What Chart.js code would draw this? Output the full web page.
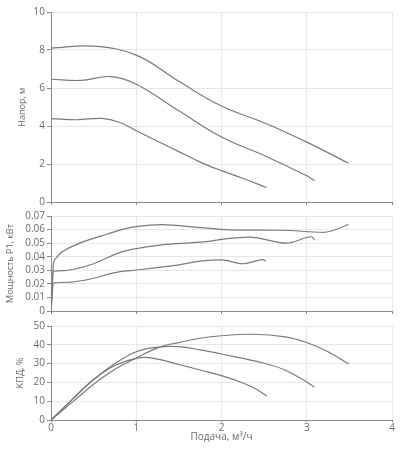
<!DOCTYPE html>
<html><head><meta charset="utf-8">
<script src="https://cdn.jsdelivr.net/npm/chart.js@4/dist/chart.umd.min.js"></script>
<style>
html,body{margin:0;padding:0;background:#fff;}
.c{position:absolute;left:0;width:400px;}
</style></head>
<body>
<div class="c" style="top:0;height:210px"><canvas id="c1" width="400" height="210"></canvas></div>
<div class="c" style="top:206px;height:113px"><canvas id="c2" width="400" height="113"></canvas></div>
<div class="c" style="top:318px;height:139px"><canvas id="c3" width="400" height="139"></canvas></div>
<script>
// ---- data ----
const xTicks = [0, 1, 2, 3, 4];
const headTicks = [0, 2, 4, 6, 8, 10];
const powerTicks = [0, 0.01, 0.02, 0.03, 0.04, 0.05, 0.06, 0.07];
const effTicks = [0, 10, 20, 30, 40, 50];

const head1X = [0, 0.5, 1.0, 1.5, 2.0, 2.5, 3.0, 3.49];
const head1Y = [8.1, 8.2, 7.73, 6.35, 5.05, 4.17, 3.15, 2.04];
const head2X = [0, 0.35, 0.7, 1.0, 1.5, 2.0, 2.5, 3.0, 3.09];
const head2Y = [6.46, 6.4, 6.6, 6.2, 4.8, 3.42, 2.45, 1.38, 1.12];
const head3X = [0, 0.3, 0.6, 0.8, 1.0, 1.25, 1.5, 1.75, 2.0, 2.25, 2.53];
const head3Y = [4.39, 4.33, 4.4, 4.2, 3.75, 3.2, 2.65, 2.1, 1.65, 1.25, 0.76];

const power1X = [0, 0.03, 0.06, 0.11, 0.34, 0.6, 0.81, 1.0, 1.3, 1.75, 2.1, 2.7, 3.2, 3.49];
const power1Y = [0, 0.035, 0.039, 0.0425, 0.05, 0.0555, 0.0596, 0.0622, 0.0637, 0.0615, 0.0598, 0.0595, 0.058, 0.0637];
const power2X = [0, 0.03, 0.15, 0.3, 0.5, 0.81, 1.0, 1.3, 1.75, 2.1, 2.33, 2.76, 3.06, 3.09];
const power2Y = [0, 0.0293, 0.0298, 0.0312, 0.0348, 0.0432, 0.046, 0.0487, 0.0507, 0.0535, 0.0545, 0.05, 0.0547, 0.0523];
const power3X = [0, 0.03, 0.2, 0.4, 0.81, 1.0, 1.5, 1.75, 2.0, 2.25, 2.49, 2.52];
const power3Y = [0, 0.0206, 0.0212, 0.0228, 0.029, 0.0302, 0.034, 0.0367, 0.0377, 0.0348, 0.0379, 0.0367];

const eff1X = [0, 0.25, 0.5, 0.75, 1.0, 1.28, 1.5, 1.75, 2.0, 2.37, 2.75, 3.0, 3.25, 3.49];
const eff1Y = [0, 9.5, 19, 27, 33, 38.9, 41.2, 43.5, 44.8, 45.6, 44.2, 41.2, 36.3, 29.8];
const eff2X = [0, 0.25, 0.5, 0.75, 1.0, 1.25, 1.5, 1.75, 2.0, 2.5, 2.75, 3.0, 3.09];
const eff2Y = [0, 11, 21.5, 30, 36.3, 38.7, 39.0, 37.3, 35.1, 30.2, 26.5, 20.2, 17.5];
const eff3X = [0, 0.25, 0.5, 0.75, 1.05, 1.25, 1.5, 1.75, 2.0, 2.25, 2.4, 2.53];
const eff3Y = [0, 11, 21.5, 29, 33.2, 32.4, 29.5, 26.6, 23.6, 19.7, 16.6, 12.8];

// ---- styling ----
const FONT = "'Open Sans', sans-serif";
const TEXT = '#6b6b6b';
const GRID = '#e6e6ec';
const AXIS = '#8a8a8a';
const LINE = '#7a7a7a';
const AREA_LEFT = 51;

function pts(xs, ys) { return xs.map((x, i) => ({x: x, y: ys[i]})); }
function ds(xs, ys, mono) {
  const d = {data: pts(xs, ys), borderColor: LINE, borderWidth: 1.2, pointRadius: 0, fill: false, tension: 0.4};
  if (mono) d.cubicInterpolationMode = 'monotone';
  return d;
}

function makeChart(id, cfg) {
  const padLeft = cfg.padLeft;
  return new Chart(document.getElementById(id), {
    type: 'line',
    data: {datasets: cfg.datasets},
    options: {
      responsive: false, animation: false, events: [],
      layout: {padding: {left: padLeft, right: 8, top: cfg.padTop, bottom: 0}},
      plugins: {legend: {display: false}, tooltip: {enabled: false}},
      scales: {
        x: {
          type: 'linear', min: 0, max: 4,
          afterBuildTicks: s => { s.ticks = xTicks.map(v => ({value: v})); },
          afterFit: s => { s.height = cfg.xHeight; },
          grid: {color: GRID, tickColor: AXIS, tickLength: cfg.xTickLen},
          border: {color: AXIS, width: 1},
          ticks: {display: cfg.xLabels, color: TEXT, font: {family: FONT, size: 10}, padding: 0, maxRotation: 0, autoSkip: false},
          title: {display: cfg.xLabels, text: 'Подача, м³/ч', color: TEXT, font: {family: FONT, size: 10}, padding: {top: 0, bottom: 14}}
        },
        y: {
          type: 'linear', min: cfg.ticks[0], max: cfg.ticks[cfg.ticks.length - 1],
          afterBuildTicks: s => { s.ticks = cfg.ticks.map(v => ({value: v})); },
          afterFit: s => { s.width = AREA_LEFT - padLeft; },
          grid: {color: GRID, tickColor: AXIS, tickLength: 4},
          border: {color: AXIS, width: 1},
          ticks: {color: TEXT, font: {family: FONT, size: 10}, padding: 2, autoSkip: false, callback: cfg.fmt},
          title: {display: true, text: cfg.title, color: TEXT, font: {family: FONT, size: 9}, padding: {top: cfg.titlePad, bottom: 0}}
        }
      }
    }
  });
}

makeChart('c1', {
  datasets: [ds(head1X, head1Y), ds(head2X, head2Y), ds(head3X, head3Y)],
  ticks: headTicks, title: 'Напор, м', padLeft: 12, titlePad: 5, padTop: 12,
  xHeight: 7, xTickLen: 3, xLabels: false, fmt: v => String(v)
});
makeChart('c2', {
  datasets: [ds(power1X, power1Y, true), ds(power2X, power2Y, true), ds(power3X, power3Y, true)],
  ticks: powerTicks, title: 'Мощность P1, кВт', padLeft: 1, titlePad: 4, padTop: 10,
  xHeight: 7, xTickLen: 3, xLabels: false, fmt: v => (v === 0 ? '0' : v.toFixed(2))
});
makeChart('c3', {
  datasets: [ds(eff1X, eff1Y), ds(eff2X, eff2Y), ds(eff3X, eff3Y)],
  ticks: effTicks, title: 'КПД, %', padLeft: 10, titlePad: 5, padTop: 7,
  xHeight: 37, xTickLen: 2, xLabels: true, fmt: v => String(v)
});
</script>
</body></html>
